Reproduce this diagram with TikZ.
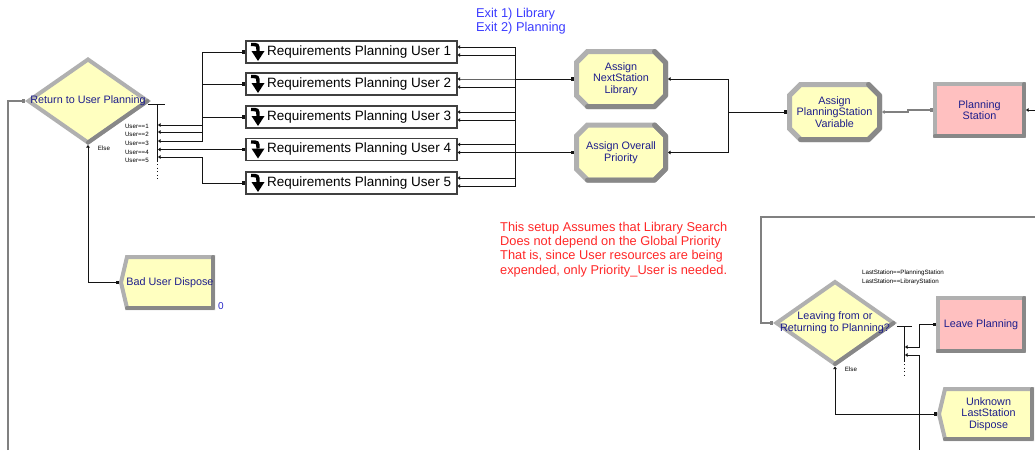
\documentclass[tikz,border=0pt]{standalone}
\usepackage{fontspec}
\setmainfont{Liberation Sans}
\usetikzlibrary{arrows.meta,backgrounds}

\definecolor{modfill}{RGB}{255,255,192}
\definecolor{stfill}{RGB}{255,192,192}
\definecolor{bevel}{RGB}{176,176,176}
\definecolor{bevdark}{RGB}{136,136,136}
\definecolor{navy}{RGB}{30,30,140}
\definecolor{exitblue}{RGB}{60,60,255}
\definecolor{notered}{RGB}{255,40,40}
\definecolor{countblue}{RGB}{40,40,200}
\definecolor{wirecol}{RGB}{20,20,20}
\definecolor{graywire}{RGB}{128,128,128}

% module outlines drawn behind the named text nodes
\newcommand\octoborder[1]{%
  \draw[octline]
    ([shift={(13.5pt,-2.5pt)}]#1.north west) --
    ([shift={(-13.5pt,-2.5pt)}]#1.north east) --
    ([shift={(-2.5pt,-13.5pt)}]#1.north east) --
    ([shift={(-2.5pt,13.5pt)}]#1.south east) --
    ([shift={(-13.5pt,2.5pt)}]#1.south east) --
    ([shift={(13.5pt,2.5pt)}]#1.south west) --
    ([shift={(2.5pt,13.5pt)}]#1.south west) --
    ([shift={(2.5pt,-13.5pt)}]#1.north west) -- cycle;
  \draw[octline, fill=none, draw=bevdark, line cap=round, line join=round]
    ([shift={(-13.5pt,-2.5pt)}]#1.north east) --
    ([shift={(-2.5pt,-13.5pt)}]#1.north east) --
    ([shift={(-2.5pt,13.5pt)}]#1.south east) --
    ([shift={(-13.5pt,2.5pt)}]#1.south east) --
    ([shift={(13.5pt,2.5pt)}]#1.south west);}
\newcommand\disposeborder[1]{%
  \draw[modline]
    ([shift={(2pt,-2pt)}]#1.north west) --
    ([shift={(-2pt,-2pt)}]#1.north east) --
    ([shift={(-2pt,2pt)}]#1.south east) --
    ([shift={(2pt,2pt)}]#1.south west) --
    ([xshift=-4pt]#1.west) -- cycle;
  \draw[modline, fill=none, draw=bevdark, line cap=round, line join=round]
    ([shift={(-2pt,-2pt)}]#1.north east) --
    ([shift={(-2pt,2pt)}]#1.south east) --
    ([shift={(2pt,2pt)}]#1.south west);}
\newcommand\decideborder[1]{%
  \draw[modline]
    ([yshift=-2.5pt]#1.north) -- ([xshift=-3.5pt]#1.east) --
    ([yshift=2.5pt]#1.south) -- ([xshift=3.5pt]#1.west) -- cycle;
  \draw[modline, fill=none, draw=bevdark, line cap=round]
    ([xshift=-3.5pt]#1.east) -- ([yshift=2.5pt]#1.south);}
\newcommand\stationshade[1]{%
  \draw[draw=bevdark, line width=4pt, line cap=round, line join=round]
    ([shift={(-2pt,-2pt)}]#1.north east) --
    ([shift={(-2pt,2pt)}]#1.south east) --
    ([shift={(2pt,2pt)}]#1.south west);}

\tikzset{
  modtext/.style={font=\fontsize{10.8}{11.6}\selectfont, text=navy, align=center},
  plainmod/.style={modtext, inner sep=0pt, outer sep=0pt},
  modline/.style={draw=bevel, line width=4pt, fill=modfill},
  octline/.style={draw=bevel, line width=5pt, fill=modfill},
  station/.style={modtext, draw=bevel, line width=4pt, fill=stfill, inner sep=0pt},
  subbox/.style={draw=black!75, line width=1.2pt, fill=white,
    minimum width=211pt, minimum height=22pt, inner sep=0pt},
  subtext/.style={font=\fontsize{13.5}{15}\selectfont, anchor=west, inner sep=0pt},
  tinylbl/.style={font=\fontsize{6.2}{7}\selectfont, inner sep=0pt, text=black},
  wire/.style={draw=wirecol, line width=1pt},
  gwire/.style={draw=graywire, line width=1.5pt},
  conn/.style={wire, {Triangle[length=2.5pt,width=3.5pt]}-{Square[length=3.2pt,width=3.2pt]}},
  gconn/.style={conn, draw=graywire, line width=1.3pt},
  exitonly/.style={wire, {Triangle[length=2.5pt,width=3.5pt]}-},
  entryonly/.style={-{Square[length=3.2pt,width=3.2pt]}},
  dotbus/.style={wire, dash pattern=on 1pt off 2.5pt},
  dnarrow/.pic={
    \draw[line width=3.4pt] (-6,-7.5) .. controls (1,-7.5) .. (1,-1);
    \fill (-5.5,-1) -- (7.5,-1) -- (1,9) -- cycle;
  }
}

\begin{document}
\begin{tikzpicture}[x=1pt, y=-1pt]
\useasboundingbox (0,0) rectangle (1035,450);

% ---------------- modules ----------------
\node[plainmod, minimum width=126pt, minimum height=88pt] (ret) at (88,101) {Return to User Planning};
\node[plainmod, minimum width=90pt, minimum height=55pt] (bud) at (170,282.5) {Bad User Dispose};
\node[font=\fontsize{10}{11}\selectfont, text=countblue, inner sep=0pt] (budn) at (221,306) {0};

\foreach \i/\y in {1/52,2/84,3/117,4/149.5,5/183}{
  \node[subbox] (rq\i) at (351.5,\y) {};
  \pic at (257,\y) {dnarrow};
  \node[subtext] (rqt\i) at (267,\y) {Requirements Planning User \i};
}

\node[plainmod, minimum width=94pt, minimum height=60pt] (asnl) at (621,79) {Assign\\NextStation\\Library};
\node[plainmod, minimum width=94pt, minimum height=60pt] (asop) at (621,152.5) {Assign Overall\\Priority};
\node[plainmod, minimum width=95pt, minimum height=60pt] (apsv) at (834.5,112) {Assign\\PlanningStation\\Variable};
\node[station, minimum width=89pt, minimum height=52pt] (plan) at (979.5,110) {Planning\\Station};

\node[plainmod, minimum width=124pt, minimum height=87pt] (lv) at (835,323) {Leaving from or\\Returning to Planning?};
\node[station, minimum width=86pt, minimum height=53pt] (lp) at (981,324.5) {Leave Planning};
\node[plainmod, minimum width=91pt, minimum height=54pt] (ud) at (988.5,414) {Unknown\\LastStation\\Dispose};

\stationshade{plan}
\stationshade{lp}

\begin{pgfonlayer}{background}
  \fill[white] (0,0) rectangle (1035,450);
  \decideborder{ret}
  \decideborder{lv}
  \disposeborder{bud}
  \disposeborder{ud}
  \octoborder{asnl}
  \octoborder{asop}
  \octoborder{apsv}
\end{pgfonlayer}

% ---------------- notes ----------------
\node[font=\fontsize{12.8}{14}\selectfont, text=exitblue, align=left, anchor=west, inner sep=0pt]
  (exits) at (476,21) {Exit 1) Library\\Exit 2) Planning};
\node[font=\fontsize{12.8}{14.3}\selectfont, text=notered, align=left, anchor=west, inner sep=0pt]
  (note) at (500,249.5) {This setup Assumes that Library Search\\Does not depend on the Global Priority\\That is, since User resources are being\\expended, only Priority\_User is needed.};

% ---------------- decide: Return to User Planning ----------------
\coordinate (offL) at (8,450);
\draw[gwire, entryonly] (offL) |- (ret.west);

\coordinate (rbus) at (157,104);
\draw[wire] (148,104) -- (165,104);
\draw[wire] (rbus) -- (157,162);
\draw[dotbus] (157,164) -- (157,179);

\foreach \i/\y in {1/125,2/132,3/141,4/149.5,5/157}{
  \coordinate (rx\i) at (158,\y);
}
\foreach \i/\y in {1/126.5,2/134,3/143,4/152,5/160}{
  \node[tinylbl, anchor=east] (lu\i) at (149,\y) {User==\i};
}
\node[tinylbl] (relse) at (104,148.5) {Else};

\draw[conn] (rx1) -- ++(44,0) |- (rq1.west);
\draw[conn] (rx2) -- ++(44,0) |- (rq2.west);
\draw[conn] (rx3) -- ++(44,0) |- (rq3.west);
\draw[conn] (rx4) -- (rq4.west);
\draw[conn] (rx5) -- ++(44,0) |- (rq5.west);

\draw[conn] (ret.south) |- ([xshift=-6pt]bud.west);

% ---------------- submodel exits ----------------
\coordinate (bx) at (515,0);
\foreach \i in {1,...,5}{
  \draw[conn] ([yshift=5pt]rq\i.east) -| (bx |- asnl.west) -- (asnl.west);
  \draw[conn] ([yshift=-3pt]rq\i.east) -| (bx |- asop.west) -- (asop.west);
}

% ---------------- assigns to station ----------------
\coordinate (bx2) at (728,0);
\draw[conn] (asnl.east) -| (bx2 |- apsv.west) -- (apsv.west);
\draw[conn] (asop.east) -| (bx2 |- apsv.west) -- (apsv.west);
\draw[gconn] (apsv.east) -- ++(26,0) |- (plan.west);
\coordinate (offR1) at (1035,110);
\draw[exitonly] (plan.east) -- (offR1);

% ---------------- decide: Leaving from or Returning to Planning ----------------
\coordinate (offR2) at (1035,217);
\draw[gwire, entryonly] (offR2) -| ([xshift=-12pt]lv.west) -- (lv.west);

\coordinate (lbus) at (904,326);
\draw[wire] (897,326) -- (912,326);
\draw[wire] (lbus) -- (904,362);
\draw[dotbus] (904,364) -- (904,376);

\coordinate (lx1) at (905,347);
\coordinate (lx2) at (905,355);
\node[tinylbl, anchor=west] (ll1) at (862,273) {LastStation==PlanningStation};
\node[tinylbl, anchor=west] (ll2) at (862,282) {LastStation==LibraryStation};
\node[tinylbl] (lelse) at (851,369.5) {Else};

\draw[conn] (lx1) -- ++(14,0) |- (lp.west);
\coordinate (offB2) at (919,450);
\draw[exitonly] (lx2) -| (offB2);
\draw[conn] (lv.south) |- ([xshift=-6pt]ud.west);

\end{tikzpicture}
\end{document}
